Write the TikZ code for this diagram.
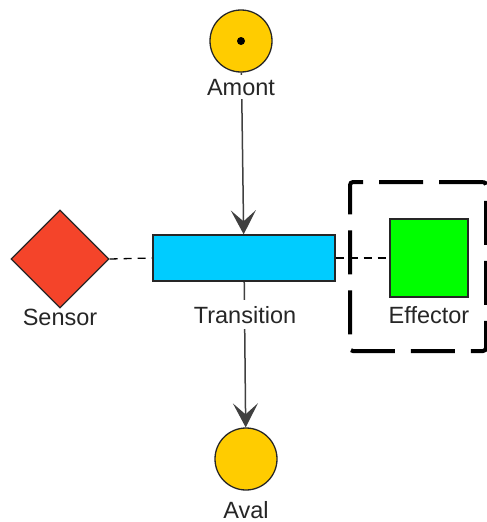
\documentclass[tikz,border=0pt]{standalone}
\usepackage{fontspec}
\setmainfont{Liberation Sans}
\usetikzlibrary{positioning,arrows.meta,shapes.geometric,backgrounds}
\definecolor{placeyel}{HTML}{FFCC00}
\definecolor{transcyan}{HTML}{00CCFF}
\definecolor{sensred}{HTML}{F4442A}
\definecolor{effgreen}{HTML}{00FF00}
\tikzset{
  >={Stealth[length=24pt,width=25pt,inset=11pt]},
  place/.style={circle,draw=black!85,line width=1.3pt,fill=placeyel,
    minimum size=62pt,inner sep=0pt},
  transbox/.style={rectangle,draw=black!85,line width=1.3pt,fill=transcyan,
    minimum width=182pt,minimum height=46pt,inner sep=0pt},
  sensnode/.style={diamond,draw=black!85,line width=1.3pt,fill=sensred,
    minimum width=98pt,minimum height=98pt,inner sep=0pt},
  effnode/.style={rectangle,draw=black!85,line width=1.3pt,fill=effgreen,
    minimum size=78pt,inner sep=0pt},
  groupbox/.style={rectangle,draw=black,line width=4pt,rounded corners=3pt,
    dash pattern=on 44pt off 16pt,minimum width=136pt,minimum height=169pt,
    inner sep=0pt},
  nlbl/.style={anchor=base,fill=white,inner sep=6pt,text=black!85,
    font=\fontsize{23.5}{28}\selectfont},
  flow/.style={->,line width=1.5pt,black!75},
  link/.style={line width=1.3pt,black,dash pattern=on 8pt off 6pt},
  dotmark/.style={circle,fill=black,inner sep=0pt,minimum size=8pt},
}
\begin{document}
\begin{tikzpicture}[x=1pt,y=-1pt]
  \useasboundingbox (0,0) rectangle (487,522);
  \clip (0,0) rectangle (487,522);
  \node[place] (amont) at (241,41) {};
  \node[dotmark] at (amont.center) {};
  \node[transbox] (trans) at (244,258) {};
  \node[place] (aval) at (246,459) {};
  \node[sensnode] (sensor) at (60,259) {};
  \node[effnode] (effector) at (429,258) {};
  \node[groupbox] (effgroup) at (418,266.5) {};
  \begin{scope}[on background layer]
    \draw[flow] (amont) -- (trans);
    \draw[flow] (trans) -- (aval);
    \draw[link] (sensor.east) -- (trans.west);
    \draw[link] (trans.east) -- (effector.west);
  \end{scope}
  \node[nlbl,inner ysep=4pt] (amontlbl) at (241,95) {Amont};
  \node[nlbl] (translbl) at (245,323) {Transition};
  \node[nlbl,inner ysep=3pt] (avallbl) at (246,518) {Aval};
  \node[nlbl,fill=none] (sensorlbl) at (60,325) {Sensor};
  \node[nlbl,fill=none] (effectorlbl) at (429,323) {Effector};
\end{tikzpicture}
\end{document}
